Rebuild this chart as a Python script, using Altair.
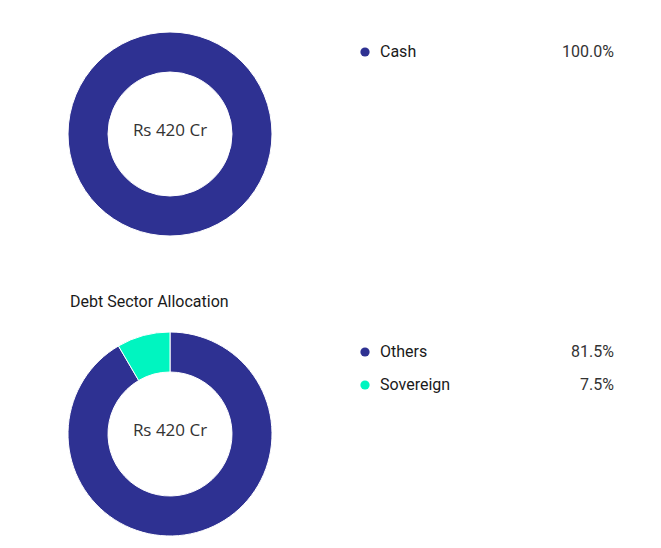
import altair as alt
import pandas as pd

# ---- data ----
asset_categories = ["Cash"]
asset_values = [100.0]
sector_categories = ["Others", "Sovereign"]
sector_values = [81.5, 7.5]
center_label = "Rs 420 Cr"
section_title = "Debt Sector Allocation"

all_categories = asset_categories + sector_categories
all_colors = ["#2E3192", "#2E3192", "#00F5C0"]

asset_df = pd.DataFrame({"category": asset_categories, "value": asset_values,
                         "order": list(range(len(asset_categories)))})
sector_df = pd.DataFrame({"category": sector_categories, "value": sector_values,
                          "order": list(range(len(sector_categories)))})
for d in (asset_df, sector_df):
    d["pct"] = d["value"].map(lambda v: f"{v:.1f}%")

color = alt.Color("category:N", scale=alt.Scale(domain=all_categories, range=all_colors), legend=None)

W, H = 645, 532
CX = 162
DONUT_Y = [126, 426]
LEG_Y0 = [44, 344]
LEG_STEP = 33


def donut(df, cy):
    arc = alt.Chart(df).mark_arc(innerRadius=62, outerRadius=102, stroke="white", strokeWidth=1).encode(
        theta=alt.Theta("value:Q", stack=True),
        order=alt.Order("order:Q"),
        color=color,
        x=alt.value(CX), y=alt.value(cy),
    )
    txt = alt.Chart(pd.DataFrame({"t": [center_label]})).mark_text(
        font="Open Sans", fontSize=17, color="#333333", align="center", baseline="middle", dy=-3
    ).encode(text="t:N", x=alt.value(CX), y=alt.value(cy))
    return [arc, txt]


def legend(df, y0):
    layers = []
    for i, row in df.reset_index(drop=True).iterrows():
        sub = df[df["category"] == row["category"]]
        y = y0 + i * LEG_STEP
        layers.append(alt.Chart(sub).mark_point(filled=True, size=85, opacity=1).encode(
            color=color, x=alt.value(357), y=alt.value(y)))
        layers.append(alt.Chart(sub).mark_text(font="Roboto", fontSize=16, color="#1a1a1a",
                                               align="left", baseline="middle").encode(
            text="category:N", x=alt.value(372), y=alt.value(y)))
        layers.append(alt.Chart(sub).mark_text(font="Roboto", fontSize=16, color="#333333",
                                               align="right", baseline="middle").encode(
            text="pct:N", x=alt.value(606), y=alt.value(y)))
    return layers


title = alt.Chart(pd.DataFrame({"t": [section_title]})).mark_text(
    font="Roboto", fontSize=16, fontWeight="normal", color="#1a1a1a", align="left", baseline="middle"
).encode(text="t:N", x=alt.value(62), y=alt.value(294))

layers = donut(asset_df, DONUT_Y[0]) + donut(sector_df, DONUT_Y[1]) + legend(asset_df, LEG_Y0[0]) + legend(sector_df, LEG_Y0[1]) + [title]

chart = alt.layer(*layers).resolve_scale(theta="independent").properties(
    width=W, height=H, padding=0, background="white"
).configure_view(stroke=None)

chart.save("out.html", embed_options={"renderer": "svg", "actions": False})
